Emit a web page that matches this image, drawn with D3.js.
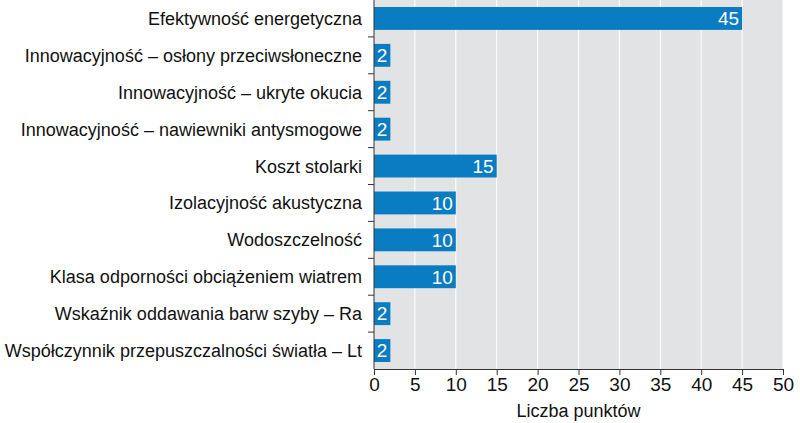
<!DOCTYPE html><html><head><meta charset="utf-8"><script src="https://cdn.jsdelivr.net/npm/d3@7"></script>
<style>body{margin:0;background:#fff}text{font-family:"Liberation Sans",Arial,sans-serif}</style></head><body><svg id="c" width="800" height="423"></svg><script>
const categories=["Efektywność energetyczna","Innowacyjność – osłony przeciwsłoneczne","Innowacyjność – ukryte okucia","Innowacyjność – nawiewniki antysmogowe","Koszt stolarki","Izolacyjność akustyczna","Wodoszczelność","Klasa odporności obciążeniem wiatrem","Wskaźnik oddawania barw szyby – Ra","Współczynnik przepuszczalności światła – Lt"];
const values=[45,2,2,2,15,10,10,10,2,2];
const ticks=[0,5,10,15,20,25,30,35,40,45,50];
const axisTitle="Liczba punktów";
const svg=d3.select("#c");
const L=374,R=783,T=0,B=369;
const x=d3.scaleLinear().domain([0,50]).range([L,R]);
const y=d3.scaleBand().domain(categories).range([T,B]).paddingInner(0.38).paddingOuter(0.19);
svg.append("rect").attr("x",L).attr("y",T).attr("width",R-L).attr("height",B-T).attr("fill","#e2e3e5");
svg.selectAll(".g").data(ticks.slice(1)).join("line").attr("x1",d=>x(d)).attr("x2",d=>x(d)).attr("y1",T).attr("y2",B).attr("stroke","#fff").attr("stroke-width",1);
svg.selectAll(".b").data(values).join("rect").attr("x",L).attr("y",(d,i)=>y(categories[i])).attr("width",d=>x(d)-L).attr("height",y.bandwidth()).attr("fill","#0a7dc2");
svg.selectAll(".v").data(values).join("text").attr("x",d=>x(d)-3).attr("y",(d,i)=>y(categories[i])+y.bandwidth()/2).attr("dy","0.36em").attr("text-anchor","end").attr("fill","#fff").attr("font-size",19).text(d=>d);
const step=(B-T)/categories.length;
svg.selectAll(".lt").data(d3.range(1,categories.length)).join("line").attr("x1",L-6).attr("x2",L).attr("y1",d=>T+d*step).attr("y2",d=>T+d*step).attr("stroke","#333");
svg.append("line").attr("x1",L).attr("x2",L).attr("y1",T).attr("y2",B).attr("stroke","#333");
svg.selectAll(".cl").data(categories).join("text").attr("x",L-12).attr("y",d=>y(d)+y.bandwidth()/2).attr("dy","0.36em").attr("text-anchor","end").attr("font-size",18).attr("fill","#111").text(d=>d);
const ax=svg.append("g").attr("transform",`translate(0,${B})`).call(d3.axisBottom(x).tickValues(ticks).tickSize(6).tickSizeOuter(0).tickPadding(3));
ax.select(".domain").attr("stroke","#333");ax.selectAll("line").attr("stroke","#333");
ax.selectAll("text").attr("font-size",19).attr("fill","#111").attr("font-family","Liberation Sans, Arial, sans-serif");
svg.append("text").attr("x",x(25)).attr("y",417).attr("text-anchor","middle").attr("font-size",18).attr("fill","#111").text(axisTitle);
</script></body></html>
